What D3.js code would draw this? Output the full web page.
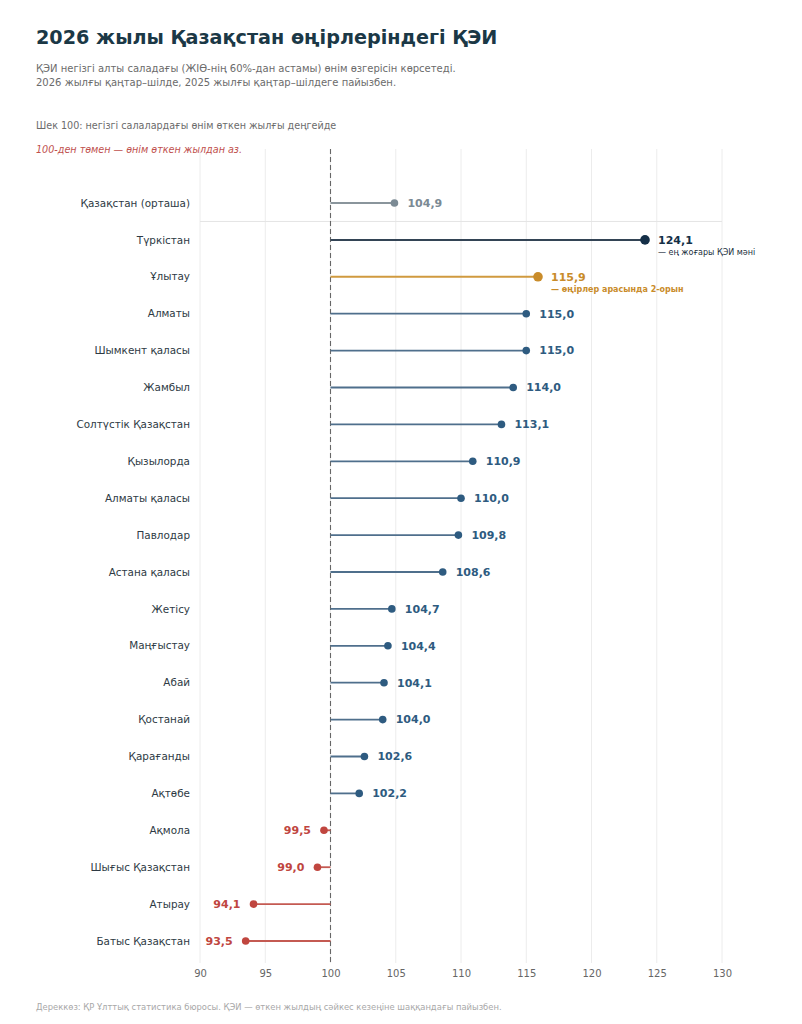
<!DOCTYPE html>
<html><head><meta charset="utf-8">
<script src="https://cdn.jsdelivr.net/npm/d3@7"></script>
<style>body{margin:0;background:#fff;} svg{display:block;font-family:"DejaVu Sans",sans-serif;}</style>
</head><body>
<svg id="c" width="802" height="1024"></svg>
<script>
const regions = ["Қазақстан (орташа)","Түркістан","Ұлытау","Алматы","Шымкент қаласы","Жамбыл","Солтүстік Қазақстан","Қызылорда","Алматы қаласы","Павлодар","Астана қаласы","Жетісу","Маңғыстау","Абай","Қостанай","Қарағанды","Ақтөбе","Ақмола","Шығыс Қазақстан","Атырау","Батыс Қазақстан"];
const values = [104.9,124.1,115.9,115.0,115.0,114.0,113.1,110.9,110.0,109.8,108.6,104.7,104.4,104.1,104.0,102.6,102.2,99.5,99.0,94.1,93.5];
const xTicks = [90,95,100,105,110,115,120,125,130];
const texts = {
  title: "2026 жылы Қазақстан өңірлеріндегі ҚЭИ",
  sub1: "ҚЭИ негізгі алты саладағы (ЖІӨ-нің 60%-дан астамы) өнім өзгерісін көрсетеді.",
  sub2: "2026 жылғы қаңтар–шілде, 2025 жылғы қаңтар–шілдеге пайызбен.",
  note1: "Шек 100: негізгі салалардағы өнім өткен жылғы деңгейде",
  note2: "100-ден төмен — өнім өткен жылдан аз.",
  ann1: "— ең жоғары ҚЭИ мәні",
  ann2: "— өңірлер арасында 2-орын",
  footer: "Дереккөз: ҚР Ұлттық статистика бюросы. ҚЭИ — өткен жылдың сәйкес кезеңіне шаққандағы пайызбен."
};
const data = regions.map((r,i)=>({r, v: values[i], i}));
const svg = d3.select("#c");
const x = d3.scaleLinear().domain([90,130]).range([200,722]);
const y = d3.scalePoint().domain(regions).range([203,941]);
const plotTop = 149, plotBottom = 963;

function colorOf(d){
  if (d.i===0) return "#7b8a94";
  if (d.i===1) return "#142f47";
  if (d.i===2) return "#c98c2a";
  if (d.v<100) return "#c0463f";
  return "#2e5b80";
}
function lineColorOf(d){
  if (d.i===0) return "#8a959c";
  if (d.i===1) return "#334455";
  if (d.i===2) return "#d09a3f";
  if (d.v<100) return "#c45a52";
  return "#4f6f8c";
}

// header
svg.append("text").attr("x",36).attr("y",44).attr("font-size",19.2).attr("font-weight","bold").attr("fill","#1b3846").text(texts.title);
svg.append("text").attr("x",36).attr("y",72).attr("font-size",10).attr("fill","#6b6b6b").text(texts.sub1);
svg.append("text").attr("x",36).attr("y",86).attr("font-size",10).attr("fill","#6b6b6b").text(texts.sub2);
svg.append("text").attr("x",36).attr("y",129).attr("font-size",9.6).attr("fill","#6b6b6b").text(texts.note1);
svg.append("text").attr("x",36).attr("y",153).attr("font-size",9.6).attr("font-style","italic").attr("fill","#c0504d").text(texts.note2);

// grid
svg.append("g").selectAll("line").data(xTicks).join("line")
  .attr("x1",d=>x(d)).attr("x2",d=>x(d)).attr("y1",plotTop).attr("y2",plotBottom)
  .attr("stroke","#ececec").attr("stroke-width",1);

// separator under average
const sepY = (y(regions[0])+y(regions[1]))/2;
svg.append("line").attr("x1",x(90)).attr("x2",x(130)).attr("y1",sepY).attr("y2",sepY)
  .attr("stroke","#e4e4e4").attr("stroke-width",1);

// axis
const ax = svg.append("g").attr("transform",`translate(0,${plotBottom})`)
  .call(d3.axisBottom(x).tickValues(xTicks).tickSize(0).tickPadding(7).tickFormat(d3.format("d")));
ax.select(".domain").remove();
ax.selectAll("text").attr("font-size",10).attr("fill","#666").attr("font-family","DejaVu Sans");

// reference line
svg.append("line").attr("x1",x(100)).attr("x2",x(100)).attr("y1",plotTop).attr("y2",plotBottom)
  .attr("stroke","#666").attr("stroke-width",1.1).attr("stroke-dasharray","5,3");

// category labels
svg.append("g").selectAll("text").data(data).join("text")
  .attr("x",190).attr("y",d=>y(d.r)).attr("dy","0.35em").attr("text-anchor","end")
  .attr("font-size",10.4).attr("fill","#2e3a44").text(d=>d.r);

// stems
svg.append("g").selectAll("line").data(data).join("line")
  .attr("x1",x(100)).attr("x2",d=>x(d.v)).attr("y1",d=>y(d.r)).attr("y2",d=>y(d.r))
  .attr("stroke",lineColorOf).attr("stroke-width",d=>d.i===1||d.i===2?2:1.8);

// dots
svg.append("g").selectAll("circle").data(data).join("circle")
  .attr("cx",d=>x(d.v)).attr("cy",d=>y(d.r)).attr("r",d=>d.i===1||d.i===2?4.8:3.8)
  .attr("fill",colorOf);

// value labels
const fmt = v => d3.format(".1f")(v).replace(".",",");
svg.append("g").selectAll("text").data(data).join("text")
  .attr("x",d=>d.v<100 ? x(d.v)-13 : x(d.v)+13)
  .attr("y",d=>y(d.r)).attr("dy","0.35em")
  .attr("text-anchor",d=>d.v<100?"end":"start")
  .attr("font-size",11).attr("font-weight","bold").attr("fill",colorOf).text(d=>fmt(d.v));

// annotations
svg.append("text").attr("x",x(values[1])+13).attr("y",y(regions[1])+15).attr("font-size",8).attr("fill","#1b2f40").text(texts.ann1);
svg.append("text").attr("x",x(values[2])+13).attr("y",y(regions[2])+15).attr("font-size",8).attr("font-weight","bold").attr("fill","#c98c2a").text(texts.ann2);

// footer
svg.append("text").attr("x",36).attr("y",1010).attr("font-size",8.4).attr("fill","#a8a8a8").text(texts.footer);
</script>
</body></html>
